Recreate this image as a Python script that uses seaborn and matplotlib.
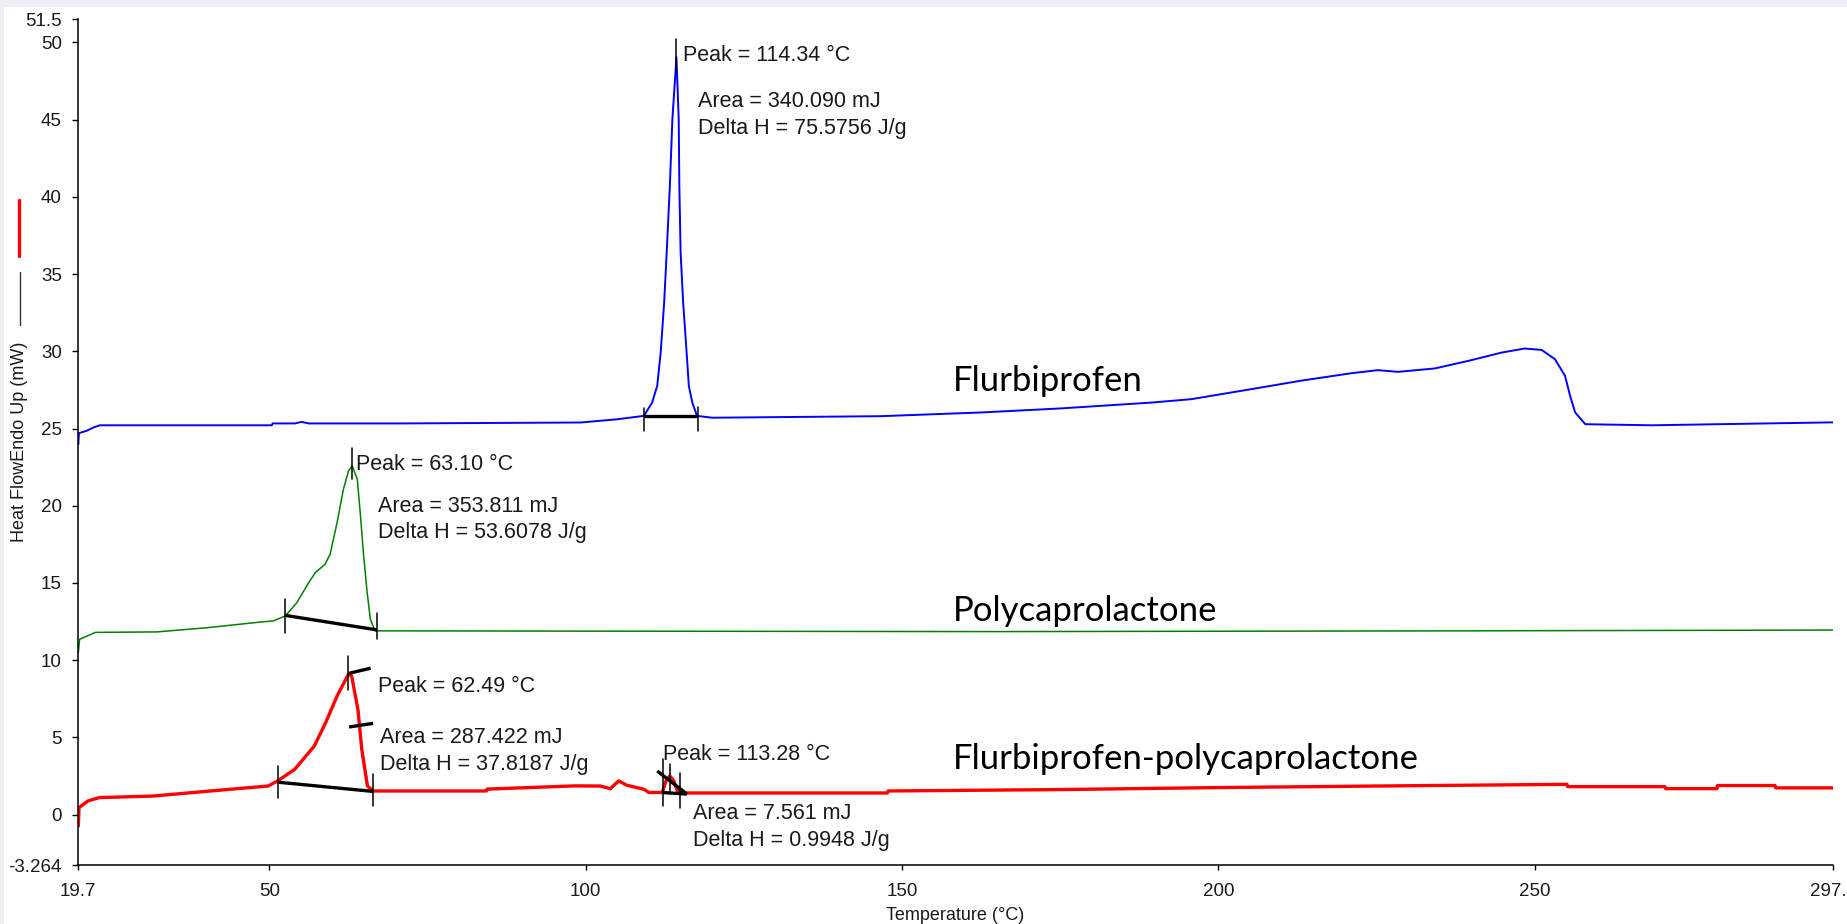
import matplotlib
matplotlib.use("Agg")
import matplotlib.pyplot as plt
from matplotlib.lines import Line2D
from matplotlib.patches import Rectangle
import seaborn as sns

# ---- DSC heat-flow traces (Temperature in °C, Heat Flow in mW) ----
flurb_temp = [19.8, 19.9, 21.1, 22.2, 23.2, 50.4, 50.5, 54.0, 55.1, 56.2, 70.7,
              99.2, 105.0, 107.1, 109.2, 110.5, 111.3, 111.85, 112.4, 112.8, 113.3,
              113.7, 114.34, 114.7, 114.8, 115.0, 115.4, 115.95, 116.3, 116.85,
              117.6, 120.0, 146.7, 162.5, 175.0, 189.4, 195.7, 205.2, 213.1, 221.0,
              225.2, 228.4, 234.2, 239.5, 244.8, 248.4, 251.1, 253.2, 254.8, 255.6,
              256.4, 258.0, 268.5, 297.2]
flurb_hf = [23.98, 24.7, 24.85, 25.07, 25.21, 25.21, 25.33, 25.33, 25.43, 25.33, 25.33,
            25.39, 25.6, 25.71, 25.82, 26.68, 27.76, 29.92, 33.16, 36.4, 40.71,
            45.03, 49.03, 45.03, 40.71, 36.4, 33.16, 29.92, 27.76, 26.68,
            25.82, 25.7, 25.8, 26.04, 26.3, 26.68, 26.9, 27.55, 28.1, 28.58,
            28.78, 28.67, 28.89, 29.38, 29.92, 30.18, 30.09, 29.49, 28.41, 27.11,
            26.04, 25.28, 25.21, 25.4]

pcl_temp = [19.8, 20.0, 22.5, 32.2, 40.1, 48.6, 50.6, 52.5, 54.35, 55.9, 57.25, 58.8,
            59.6, 60.7, 61.7, 62.5, 63.1, 63.9, 64.4, 64.9, 65.4, 65.95, 66.7,
            100.0, 165.0, 240.0, 297.2]
pcl_hf = [10.5, 11.35, 11.8, 11.83, 12.1, 12.47, 12.54, 12.86, 13.73, 14.81, 15.67, 16.21,
          16.86, 18.91, 21.07, 22.25, 22.58, 21.7, 19.34, 16.75, 14.6, 12.65, 11.9,
          11.88, 11.85, 11.9, 11.95]

mix_temp = [19.8, 19.9, 21.3, 23.1, 31.6, 40.7, 49.8, 51.3, 54.0, 57.1, 58.9, 60.7,
            62.49, 63.0, 64.0, 64.6, 65.5, 66.4, 84.3, 84.4, 98.3, 102.3, 103.9, 105.2,
            106.5, 109.2, 110.0, 112.1, 112.7, 113.28, 113.9, 114.5, 115.3, 147.7,
            147.8, 175.0, 200.0, 225.0, 255.1, 255.2, 270.6, 270.7, 278.8, 278.9,
            288.0, 288.1, 297.2]
mix_hf = [-0.74, 0.45, 0.88, 1.1, 1.2, 1.53, 1.85, 2.18, 2.93, 4.44, 5.96, 7.68,
          9.09, 8.98, 6.8, 4.23, 1.85, 1.53, 1.53, 1.65, 1.86, 1.85, 1.68, 2.18,
          1.9, 1.64, 1.43, 1.43, 2.2, 2.5, 2.2, 1.53, 1.4, 1.4,
          1.53, 1.62, 1.75, 1.85, 1.96, 1.81, 1.81, 1.68, 1.68, 1.88,
          1.88, 1.73, 1.73]

# ---- peak integration marks: (T1, H1, T2, H2) segments ----
baseline_thick = [
    (109.2, 25.82, 117.8, 25.82),
    (52.5, 12.9, 67.0, 11.96),
    (51.3, 2.1, 66.4, 1.5),
    (62.6, 9.15, 66.0, 9.48),
    (62.6, 5.67, 66.4, 5.91),
    (112.1, 1.43, 116.0, 1.33),
    (111.3, 2.82, 116.0, 1.33),
]
limit_marks = [
    (109.2, 24.85, 109.2, 26.36),
    (117.8, 24.85, 117.8, 26.40),
    (114.34, 48.06, 114.34, 50.2),
    (52.5, 11.79, 52.5, 13.95),
    (67.0, 11.35, 67.0, 13.08),
    (63.1, 21.7, 63.1, 23.77),
    (51.3, 1.1, 51.3, 3.15),
    (66.4, 0.56, 66.4, 2.6),
    (62.49, 8.1, 62.49, 10.3),
    (112.2, 0.56, 112.2, 3.58),
    (114.85, 0.45, 114.85, 2.72),
    (113.28, 1.43, 113.28, 3.3),
]

# ---- result texts: (T, H, text) ----
result_texts = [
    (115.4, 49.13, "Peak = 114.34 °C"),
    (117.75, 46.15, "Area = 340.090 mJ"),
    (117.75, 44.40, "Delta H = 75.5756 J/g"),
    (63.7, 22.67, "Peak = 63.10 °C"),
    (67.1, 19.92, "Area = 353.811 mJ"),
    (67.1, 18.24, "Delta H = 53.6078 J/g"),
    (67.1, 8.29, "Peak = 62.49 °C"),
    (67.5, 4.99, "Area = 287.422 mJ"),
    (67.5, 3.26, "Delta H = 37.8187 J/g"),
    (112.2, 3.91, "Peak = 113.28 °C"),
    (117.0, 0.08, "Area = 7.561 mJ"),
    (117.0, -1.65, "Delta H = 0.9948 J/g"),
]

sample_names = ["Flurbiprofen", "Polycaprolactone", "Flurbiprofen-polycaprolactone"]
sample_label_pos = [(158.0, 28.06), (158.0, 13.2), (158.0, 3.57)]

x_ticks = [19.7, 50, 100, 150, 200, 250, 297.2]
x_tick_labels = ["19.7", "50", "100", "150", "200", "250", "297.2"]
y_ticks = [-3.264, 0, 5, 10, 15, 20, 25, 30, 35, 40, 45, 50, 51.5]
y_tick_labels = ["-3.264", "0", "5", "10", "15", "20", "25", "30", "35", "40", "45", "50", "51.5"]

sns.set_theme(style="white")
plt.rcParams["font.family"] = ["Liberation Sans", "DejaVu Sans"]

W, H = 1847, 924
fig = plt.figure(figsize=(W / 100, H / 100), dpi=100)
fig.patch.set_facecolor("#eceff4")
fig.add_artist(Rectangle((4 / W, 0), 1 - 4 / W, 1 - 7 / H, transform=fig.transFigure,
                         facecolor="white", edgecolor="none", zorder=0))

ax = fig.add_axes([77.7 / W, (H - 865) / H, (1833.3 - 77.7) / W, (865 - 19.3) / H])
ax.set_facecolor("none")

sns.lineplot(x=flurb_temp, y=flurb_hf, ax=ax, color="#0000ff", linewidth=1.4,
             sort=False, estimator=None)
sns.lineplot(x=pcl_temp, y=pcl_hf, ax=ax, color="#008000", linewidth=1.1,
             sort=False, estimator=None)
sns.lineplot(x=mix_temp, y=mix_hf, ax=ax, color="#ff0000", linewidth=2.4,
             sort=False, estimator=None)

for t1, h1, t2, h2 in baseline_thick:
    ax.plot([t1, t2], [h1, h2], color="black", linewidth=2.4, solid_capstyle="butt", zorder=5)
for t1, h1, t2, h2 in limit_marks:
    ax.plot([t1, t2], [h1, h2], color="black", linewidth=1.1, zorder=5)

for t, h, s in result_texts:
    ax.text(t, h, s, fontsize=15.5, color="#1a1a1a", ha="left", va="center")

for (t, h), name in zip(sample_label_pos, sample_names):
    ax.text(t, h, name, fontsize=25, color="black", ha="left", va="center",
            family=["Lato", "DejaVu Sans"])

ax.set_xlim(19.7, 297.2)
ax.set_ylim(-3.264, 51.5)
ax.set_xticks(x_ticks)
ax.set_xticklabels(x_tick_labels)
ax.set_yticks(y_ticks)
ax.set_yticklabels(y_tick_labels)

for side in ["top", "right"]:
    ax.spines[side].set_visible(False)
for side in ["left", "bottom"]:
    ax.spines[side].set_color("black")
    ax.spines[side].set_linewidth(1.1)

ax.tick_params(axis="y", direction="out", length=4.3, width=1.0, pad=7.2,
               labelsize=13.5, colors="black", left=True)
ax.tick_params(axis="x", direction="out", length=3.6, width=1.0, pad=9.4,
               labelsize=13.5, colors="black", bottom=True)
for lbl in ax.get_xticklabels() + ax.get_yticklabels():
    lbl.set_color("#1a1a1a")

ax.set_xlabel("Temperature (°C)", fontsize=13, color="#1a1a1a")
ax.xaxis.set_label_coords(0.5, (865 - 906.7) / (865 - 19.3))
ax.set_ylabel("")

# vertical axis title with its trace keys
fig.text(20 / W, 1 - 442 / H, "Heat FlowEndo Up (mW)", rotation=90, fontsize=13,
         color="#1a1a1a", ha="center", va="center")
fig.add_artist(Line2D([20 / W, 20 / W], [1 - 325 / H, 1 - 272 / H],
                      transform=fig.transFigure, color="#333333", linewidth=1.0))
fig.add_artist(Line2D([19 / W, 19 / W], [1 - 256 / H, 1 - 200 / H],
                      transform=fig.transFigure, color="#ff0000", linewidth=2.4))

fig.savefig("out.png", dpi=100, facecolor=fig.get_facecolor())
